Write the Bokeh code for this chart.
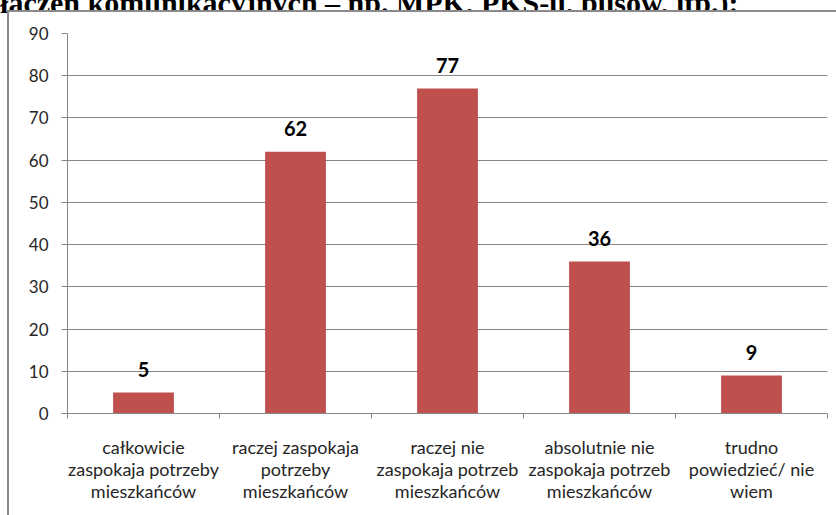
from bokeh.plotting import figure
from bokeh.models import (FixedTicker, ColumnDataSource, Range1d, InlineStyleSheet)
from bokeh.core.properties import value
from bokeh.embed import file_html
from bokeh.resources import INLINE

# ---- data -------------------------------------------------------------
categories = [
    "całkowicie\nzaspokaja potrzeby\nmieszkańców",
    "raczej zaspokaja\npotrzeby\nmieszkańców",
    "raczej nie\nzaspokaja potrzeb\nmieszkańców",
    "absolutnie nie\nzaspokaja potrzeb\nmieszkańców",
    "trudno\npowiedzieć/ nie\nwiem",
]
values = [5, 62, 77, 36, 9]
y_ticks = [0, 10, 20, 30, 40, 50, 60, 70, 80, 90]
title_text = "połączeń komunikacyjnych – np. MPK, PKS-u, busów, itp.):"

# ---- derived ----------------------------------------------------------
centers = [i + 0.5 for i in range(len(categories))]
bounds = list(range(len(categories) + 1))
src = ColumnDataSource(dict(x=centers, top=values,
                            label=[str(v) for v in values]))

GRAY = "#878787"
TXT = "#262626"
FONT = "Lato"
SHIFT = 34   # canvas starts above the window so the title is cut, as in the source

# chart box frame (grey left/top edges) and white strip hiding title descenders
box_css = InlineStyleSheet(css=f"""
:host {{ position: relative; }}
:host::after {{
  content: ""; position: absolute; left: 7px; top: {SHIFT + 10}px;
  right: 0; bottom: 0; border-left: 2px solid #8a8a8a;
  border-top: 2px solid #8a8a8a; pointer-events: none; z-index: 10;
}}
:host::before {{
  content: ""; position: absolute; left: 9px; top: {SHIFT + 12}px;
  right: 0; height: 8px; background: white; pointer-events: none; z-index: 9;
}}
""")

p = figure(width=836, height=515 + SHIFT, output_backend="svg",
           toolbar_location=None,
           x_range=Range1d(0, len(categories)), y_range=Range1d(0, 90),
           min_border_left=67, min_border_right=9, min_border_top=33 + SHIFT,
           min_border_bottom=102, margin=(-SHIFT, 0, 0, 0),
           stylesheets=[box_css])
p.outline_line_color = None
p.background_fill_color = None
p.border_fill_color = "white"

# title fragment
p.title.text = title_text
p.title.align = "right"
p.title.offset = 89
p.title.standoff = 29
p.title.text_font = "Liberation Serif"
p.title.text_font_style = "bold"
p.title.text_font_size = "30px"
p.title.text_color = "black"

# bars
p.vbar(x="x", top="top", width=0.4, source=src, fill_color="#C0504D",
       line_color=None)
p.text(x="x", y="top", text="label", source=src, text_align="center",
       text_baseline="alphabetic", y_offset=-23,
       text_font=value(FONT), text_font_style="bold", text_font_size="20px",
       text_color="black")

# grid
p.xgrid.visible = False
p.ygrid.grid_line_color = GRAY
p.ygrid.grid_line_width = 1
p.ygrid.ticker = FixedTicker(ticks=y_ticks)

# y axis
ya = p.yaxis[0]
ya.ticker = FixedTicker(ticks=y_ticks)
ya.axis_line_color = GRAY
ya.major_tick_line_color = GRAY
ya.major_tick_out = 6
ya.major_tick_in = 0
ya.minor_tick_line_color = None
ya.major_label_standoff = 13
ya.major_label_text_font = FONT
ya.major_label_text_font_size = "17px"
ya.major_label_text_color = TXT

# x axis
xa = p.xaxis[0]
xa.ticker = FixedTicker(ticks=centers, minor_ticks=bounds)
xa.major_label_overrides = {c: lab for c, lab in zip(centers, categories)}
xa.axis_line_color = GRAY
xa.major_tick_line_color = None
xa.major_tick_out = 5
xa.major_tick_in = 0
xa.minor_tick_line_color = GRAY
xa.minor_tick_out = 5
xa.minor_tick_in = 0
xa.major_label_standoff = 17
xa.major_label_text_font = FONT
xa.major_label_text_font_size = "18px"
xa.major_label_text_color = TXT
xa.major_label_text_line_height = 1.0

open("out.html", "w").write(file_html(p, INLINE))
